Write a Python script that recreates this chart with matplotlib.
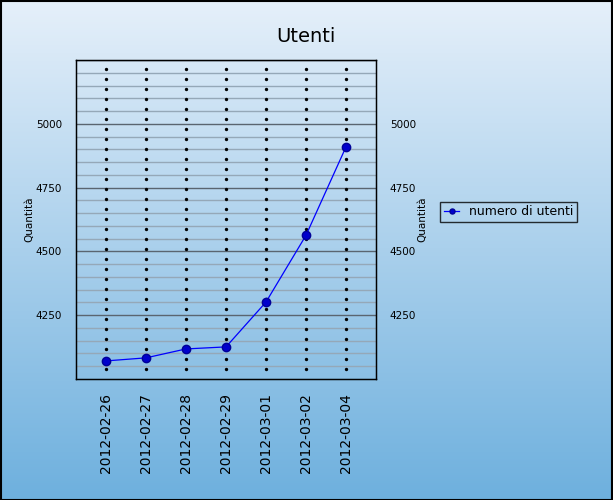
import numpy as np
import matplotlib.pyplot as plt
from matplotlib.patches import Rectangle

dates = ['2012-02-26', '2012-02-27', '2012-02-28', '2012-02-29',
         '2012-03-01', '2012-03-02', '2012-03-04']
utenti = [4070, 4082, 4117, 4125, 4301, 4563, 4910]
y_ticks = [4250, 4500, 4750, 5000]

fig = plt.figure(figsize=(6.13, 5.0), dpi=100)

# background gradient over the whole figure
bg = fig.add_axes([0, 0, 1, 1], zorder=-10)
grad = np.linspace(0, 1, 256).reshape(-1, 1)
top = np.array([0.90, 0.94, 0.98])
bottom = np.array([0.43, 0.69, 0.87])
img = top + (bottom - top) * grad[:, :, None]
bg.imshow(img, aspect='auto', extent=[0, 1, 0, 1])
bg.set_axis_off()
bg.add_patch(Rectangle((0.001, 0.001), 0.997, 0.997, fill=False,
                       edgecolor='black', linewidth=1.5, transform=bg.transAxes))

ax = fig.add_axes([76 / 613, 1 - 379 / 500, 300 / 613, 319 / 500])
ax.set_facecolor('none')
x = np.arange(len(dates))
ax.set_xlim(-0.75, len(dates) - 0.25)
ax.set_ylim(3999, 5251)

# horizontal grid: minor every 50, darker every 250
for v in range(4050, 5251, 50):
    if v % 250 == 0:
        ax.axhline(v, color='#5a6570', linewidth=1.0, zorder=1)
    else:
        ax.axhline(v, color='#95a8b8', linewidth=1.0, zorder=1)

# dotted vertical lines at each category
for xi in x:
    ax.plot([xi] * 31, np.arange(31) * 39.2 + 4038, linestyle='none',
            marker='o', markersize=1.4, color='black', zorder=2)

ax.plot(x, utenti, color='#0000ff', linewidth=0.9, marker='o', markersize=6,
        markerfacecolor='#0000cc', markeredgecolor='#000099',
        label='numero di utenti', zorder=3)

ax.set_xticks(x)
ax.set_xticklabels(dates, rotation=90, fontsize=10)
ax.set_yticks(y_ticks)
ax.set_yticklabels([str(v) for v in y_ticks], fontsize=7.5)
ax.tick_params(axis='both', length=0, pad=10)
ax.set_ylabel('Quantità', fontsize=7.5, labelpad=1)
for s in ax.spines.values():
    s.set_linewidth(1.0)

ax2 = ax.twinx()
ax2.set_ylim(ax.get_ylim())
ax2.set_yticks(y_ticks)
ax2.set_yticklabels([str(v) for v in y_ticks], fontsize=7.5)
ax2.tick_params(axis='y', length=0, pad=10)
ax2.set_ylabel('Quantità', fontsize=7.5, labelpad=0.5)

fig.text(306 / 613, 1 - 36 / 500, 'Utenti', fontsize=14, ha='center', va='center')

leg = ax.legend(loc='center left', bbox_to_anchor=(434 / 613, 1 - 212 / 500),
                bbox_transform=fig.transFigure, fontsize=9, frameon=True,
                fancybox=False, markerscale=0.6, handlelength=1.2,
                borderpad=0.3)
leg.get_frame().set_edgecolor('black')
leg.get_frame().set_facecolor('none')
leg.get_frame().set_linewidth(1.0)

fig.savefig('out.png', dpi=100)
